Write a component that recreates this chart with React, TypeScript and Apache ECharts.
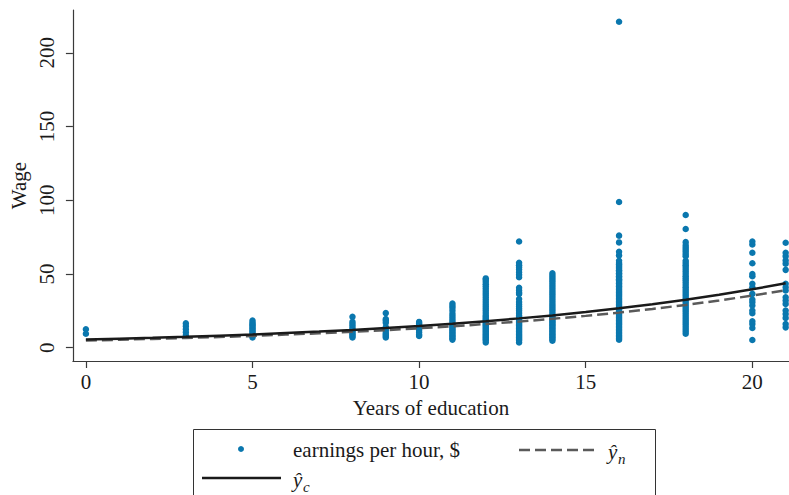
import React, { useEffect, useRef } from "react";
import * as echarts from "echarts";

// Years of education (x) and hourly wages (y), per education level
const educationLevels = [0, 3, 5, 8, 9, 10, 11, 12, 13, 14, 16, 18, 20, 21];

const wage0 = [9.5, 12.5];
const wage3 = [8.5, 10.5, 12.5, 14.5, 16.5];
const wage5 = [7, 8, 9, 10, 11, 12, 13, 14, 15, 16, 17, 18.5];
const wage8 = [7, 8, 9, 10, 11, 12, 13, 14.5, 16, 17.5, 21];
const wage9 = [7, 8, 9, 10, 11.5, 13, 14, 17, 18.5, 19.5, 23.5];
const wage10 = [8, 9, 10.5, 12, 13.5, 14.5, 15.5, 16.5, 17.5];
const wage11 = [5.5, 6.5, 7.5, 8.5, 9.5, 10.5, 11.5, 12.5, 13.5, 14.5, 15.5, 17, 18.5, 20, 21.5, 23, 25, 27, 28.5, 30];
const wage12 = [3.6, 5, 6, 7, 8, 9, 10, 11, 12, 13, 14, 15, 16, 17, 18, 19, 20, 21, 22, 23.5, 25, 26.5, 28, 29.5, 31, 32.5, 34, 35.5, 37, 38.5, 40, 41.5, 43, 44.5, 46, 47];
const wage13 = [3.6, 5, 6, 7, 8, 9, 10, 11, 12, 13, 14, 15, 16, 17, 18, 19, 20, 21, 22, 23.5, 25, 26.5, 28, 29.5, 31, 33, 36.5, 37.5, 39, 40.6, 47.8, 49.5, 51.2, 53, 54.5, 56, 57.6, 72];
const wage14 = [4.8, 6, 7, 8, 9, 10, 11, 12, 13, 14, 15, 16, 17, 18, 19, 20, 21, 22, 23.5, 25, 26.5, 28, 29.5, 31, 32.5, 34, 35.5, 37, 38.5, 40, 41.5, 43, 44.5, 46, 47.5, 49, 50.5];
const wage16 = [5.4, 6.5, 7.5, 8.5, 9.5, 10.5, 11.5, 12.5, 13.5, 14.5, 15.5, 16.5, 17.5, 18.5, 19.5, 20.5, 21.5, 22.5, 23.5, 24.5, 25.5, 26.5, 27.5, 28.5, 29.5, 30.5, 31.5, 32.5, 33.5, 34.5, 35.5, 36.5, 37.5, 38.5, 39.5, 40.5, 41.5, 42.5, 43.5, 44.5, 45.5, 46.5, 47.5, 48.5, 49.5, 50.5, 51.5, 52.5, 53.5, 54.5, 55.5, 56.5, 57.5, 59, 62.6, 65, 71.4, 76, 98.8, 221];
const wage18 = [9.5, 11, 12.5, 14, 15.5, 17, 18.5, 20, 21.5, 23, 24.5, 26, 27.5, 29, 30.5, 32, 33.5, 35, 36.5, 38, 39.5, 41, 42.5, 44, 45.5, 47, 48.5, 50, 51.5, 53, 54.5, 56, 57.5, 59, 62, 63.5, 65, 66.5, 68, 69.5, 71.6, 80.5, 90];
const wage20 = [5.2, 13.4, 16.1, 17.9, 23.4, 25.2, 28.6, 30.8, 32.6, 36.5, 41, 43.3, 48.5, 50, 57.3, 64.4, 70, 72];
const wage21 = [13.8, 16.1, 20.2, 22.9, 25.2, 29.7, 32, 34.2, 38.8, 41, 43.3, 52.8, 57, 59.2, 62, 64.4, 71.2];

const wagesByLevel = [wage0, wage3, wage5, wage8, wage9, wage10, wage11, wage12, wage13, wage14, wage16, wage18, wage20, wage21];

// Fitted curves at each year of education
const fitYears = [0, 1, 2, 3, 4, 5, 6, 7, 8, 9, 10, 11, 12, 13, 14, 15, 16, 17, 18, 19, 20, 21];
const fitC = [5.5, 6.1, 6.7, 7.4, 8.2, 9.0, 10.0, 11.0, 12.1, 13.4, 14.8, 16.3, 18.0, 19.9, 21.9, 24.2, 26.7, 29.5, 32.5, 35.9, 39.6, 43.7];
const fitN = [4.9, 5.4, 6.0, 6.6, 7.3, 8.0, 8.9, 9.8, 10.8, 11.9, 13.2, 14.5, 16.1, 17.7, 19.6, 21.6, 23.8, 26.3, 29.0, 32.0, 35.4, 39.0];

const xTicks = [0, 5, 10, 15, 20];
const yTicks = [0, 50, 100, 150, 200];

const FONT = "'Liberation Serif', 'DejaVu Serif', serif";
const BLUE = "#0a77ae";

export default function App() {
  const ref = useRef<HTMLDivElement>(null);
  useEffect(() => {
    if (!ref.current) return;
    document.body.style.margin = "0";
    const chart = echarts.init(ref.current, null, { renderer: "svg" });
    const scatter: number[][] = [];
    educationLevels.forEach((e, i) => wagesByLevel[i].forEach((w) => scatter.push([e, w])));
    const lineC = fitYears.map((e, i) => [e, fitC[i]]);
    const lineN = fitYears.map((e, i) => [e, fitN[i]]);
    const axisColor = "#3a3a3a";
    chart.setOption({
      animation: false,
      backgroundColor: "#ffffff",
      grid: { left: 66, right: 0, top: 10, bottom: 134, containLabel: false },
      xAxis: {
        type: "value",
        min: -0.39,
        max: 21.1,
        name: "Years of education",
        nameLocation: "middle",
        nameGap: 36,
        nameTextStyle: { fontFamily: FONT, fontSize: 21, color: "#1a1a1a" },
        axisLine: { show: true, onZero: false, lineStyle: { color: axisColor, width: 1.2 } },
        axisTick: { show: true, length: 7, customValues: xTicks, lineStyle: { color: axisColor, width: 1.2 } },
        axisLabel: { customValues: xTicks, fontFamily: FONT, fontSize: 21, color: "#1a1a1a", margin: 10 },
        splitLine: { show: false },
      },
      yAxis: {
        type: "value",
        min: -9,
        max: 229,
        name: "Wage",
        nameLocation: "middle",
        nameGap: 43,
        nameRotate: 90,
        nameTextStyle: { fontFamily: FONT, fontSize: 21, color: "#1a1a1a" },
        axisLine: { show: true, onZero: false, lineStyle: { color: axisColor, width: 1.2 } },
        axisTick: { show: true, length: 7, customValues: yTicks, lineStyle: { color: axisColor, width: 1.2 } },
        axisLabel: { customValues: yTicks, rotate: 90, fontFamily: FONT, fontSize: 21, color: "#1a1a1a", margin: 15 },
        splitLine: { show: false },
      },
      series: [
        {
          name: "earnings per hour, $",
          type: "scatter",
          data: scatter,
          symbolSize: 6.5,
          itemStyle: { color: BLUE, opacity: 1 },
          z: 2,
        },
        {
          name: "y_n",
          type: "line",
          data: lineN,
          showSymbol: false,
          symbol: "none",
          lineStyle: { color: "#5a5a5a", width: 2.5, type: [11, 5] },
          z: 3,
        },
        {
          name: "y_c",
          type: "line",
          data: lineC,
          showSymbol: false,
          symbol: "none",
          lineStyle: { color: "#1a1a1a", width: 2.5 },
          z: 4,
        },
      ],
      graphic: [
        {
          type: "rect",
          shape: { x: 193.5, y: 429.5, width: 462, height: 80 },
          style: { fill: "#ffffff", stroke: "#333333", lineWidth: 1 },
          silent: true,
        },
        { type: "circle", shape: { cx: 241, cy: 449, r: 3 }, style: { fill: BLUE } },
        {
          type: "text",
          x: 293,
          y: 450,
          style: { text: "earnings per hour, $", font: `21px ${FONT}`, fill: "#1a1a1a", verticalAlign: "middle" },
        },
        {
          type: "line",
          shape: { x1: 519, y1: 450, x2: 597, y2: 450 },
          style: { stroke: "#5a5a5a", lineWidth: 2.5, lineDash: [11, 5] },
        },
        {
          type: "text",
          x: 608,
          y: 452,
          style: { text: "ŷ", font: `italic 21px ${FONT}`, fill: "#1a1a1a", verticalAlign: "middle" },
        },
        {
          type: "text",
          x: 618,
          y: 459,
          style: { text: "n", font: `italic 15px ${FONT}`, fill: "#1a1a1a", verticalAlign: "middle" },
        },
        {
          type: "line",
          shape: { x1: 202, y1: 478, x2: 281, y2: 478 },
          style: { stroke: "#1a1a1a", lineWidth: 2.5 },
        },
        {
          type: "text",
          x: 293,
          y: 480,
          style: { text: "ŷ", font: `italic 21px ${FONT}`, fill: "#1a1a1a", verticalAlign: "middle" },
        },
        {
          type: "text",
          x: 303,
          y: 487,
          style: { text: "c", font: `italic 15px ${FONT}`, fill: "#1a1a1a", verticalAlign: "middle" },
        },
      ],
    });
    return () => chart.dispose();
  }, []);
  return <div ref={ref} style={{ width: 789, height: 495 }} />;
}
